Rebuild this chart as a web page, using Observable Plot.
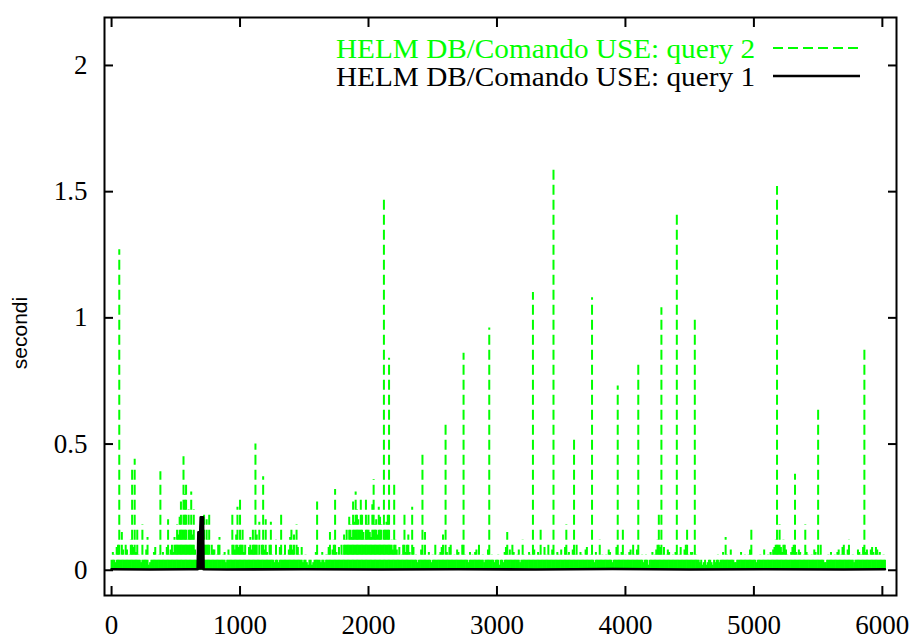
<!DOCTYPE html>
<html>
<head>
<meta charset="utf-8">
<script src="https://cdn.jsdelivr.net/npm/d3@7"></script>
<script src="https://cdn.jsdelivr.net/npm/@observablehq/plot@0.6"></script>
<style>
  html, body { margin: 0; padding: 0; background: white; }
  #chart { position: relative; width: 920px; height: 641px; }
</style>
</head>
<body>
<div id="chart"></div>
<script>
// ---- data ----
const seriesNames = ["HELM DB/Comando USE: query 2", "HELM DB/Comando USE: query 1"];
const xTicks = [0, 1000, 2000, 3000, 4000, 5000, 6000];
const yTicks = [0, 0.5, 1, 1.5, 2];

// query 2: one sample every 10 requests, starting at request 0
const q2Step = 10;
const q2 = [
  0.04,0.07, 0.06,0.03, 0.09,0.11, 1.27,0.05, 0.15,0.08, 0.05,0.10, 0.08,0.04, 0.06,0.12, 0.41,0.09, 0.44,0.07,
  0.16,0.06, 0.05,0.03, 0.18,0.05, 0.04,0.08, 0.13,0.02, 0.03,0.05, 0.05,0.07, 0.09,0.04, 0.04,0.06, 0.39,0.05,
  0.07,0.04, 0.05,0.09, 0.20,0.06, 0.08,0.11, 0.07,0.13, 0.10,0.18, 0.14,0.21, 0.27,0.16, 0.45,0.30, 0.35,0.12,
  0.24,0.17, 0.31,0.14, 0.24,0.08, 0.04,0.03, 0.02,0.09, 0.05,0.14, 0.23,0.10, 0.20,0.12, 0.22,0.06, 0.11,0.08,
  0.08,0.05, 0.06,0.10, 0.13,0.04, 0.04,0.06, 0.07,0.03, 0.05,0.08, 0.06,0.04, 0.23,0.11, 0.08,0.14, 0.25,0.09,
  0.29,0.12, 0.17,0.07, 0.10,0.05, 0.05,0.09, 0.13,0.08, 0.17,0.11, 0.50,0.14, 0.06,0.19, 0.04,0.10, 0.37,0.08,
  0.20,0.07, 0.05,0.11, 0.19,0.06, 0.04,0.03, 0.12,0.05, 0.03,0.09, 0.22,0.04, 0.06,0.10, 0.04,0.05, 0.08,0.13,
  0.17,0.08, 0.14,0.05, 0.18,0.09, 0.06,0.04, 0.09,0.03, 0.04,0.06, 0.03,0.02, 0.05,0.04, 0.02,0.03, 0.04,0.07,
  0.27,0.04, 0.05,0.03, 0.07,0.05, 0.03,0.06, 0.06,0.09, 0.15,0.05, 0.08,0.12, 0.32,0.07, 0.05,0.09, 0.04,0.11,
  0.06,0.14, 0.12,0.17, 0.10,0.21, 0.18,0.13, 0.27,0.19, 0.31,0.24, 0.20,0.16, 0.28,0.22, 0.15,0.12, 0.29,0.18,
  0.22,0.15, 0.13,0.26, 0.36,0.18, 0.20,0.14, 0.25,0.21, 0.18,0.11, 1.47,0.16, 0.19,0.23, 0.84,0.10, 0.12,0.08,
  0.34,0.12, 0.08,0.06, 0.09,0.05, 0.06,0.11, 0.23,0.07, 0.10,0.14, 0.07,0.05, 0.25,0.09, 0.04,0.06, 0.03,0.05,
  0.05,0.08, 0.47,0.06, 0.15,0.04, 0.05,0.07, 0.04,0.03, 0.06,0.05, 0.10,0.04, 0.04,0.06, 0.07,0.09, 0.14,0.05,
  0.59,0.07, 0.06,0.09, 0.11,0.04, 0.05,0.06, 0.04,0.08, 0.07,0.05, 0.05,0.10, 0.86,0.06, 0.04,0.05, 0.03,0.07,
  0.05,0.06, 0.04,0.07, 0.08,0.05, 0.10,0.04, 0.04,0.06, 0.03,0.05, 0.05,0.08, 0.96,0.04, 0.06,0.05, 0.03,0.04,
  0.04,0.06, 0.02,0.05, 0.05,0.03, 0.07,0.09, 0.15,0.06, 0.08,0.05, 0.11,0.07, 0.04,0.05, 0.06,0.08, 0.03,0.05,
  0.12,0.06, 0.05,0.04, 0.04,0.07, 0.06,0.05, 1.10,0.08, 0.05,0.04, 0.07,0.06, 0.16,0.05, 0.04,0.09, 0.06,0.05,
  0.11,0.06, 0.05,0.08, 1.60,0.05, 0.04,0.07, 0.06,0.04, 0.08,0.05, 0.05,0.09, 0.18,0.06, 0.07,0.04, 0.05,0.08,
  0.53,0.06, 0.10,0.05, 0.04,0.07, 0.06,0.04, 0.05,0.08, 0.09,0.05, 0.04,0.06, 1.08,0.05, 0.03,0.07, 0.05,0.04,
  0.12,0.05, 0.06,0.04, 0.04,0.06, 0.05,0.08, 0.07,0.04, 0.03,0.05, 0.04,0.09, 0.73,0.06, 0.05,0.07, 0.17,0.05,
  0.06,0.04, 0.04,0.07, 0.08,0.05, 0.10,0.06, 0.05,0.08, 0.82,0.05, 0.04,0.06, 0.03,0.05, 0.06,0.04, 0.02,0.05,
  0.05,0.07, 0.04,0.06, 0.08,0.12, 0.22,0.09, 1.04,0.06, 0.09,0.05, 0.06,0.08, 0.07,0.04, 0.05,0.06, 0.04,0.07,
  1.42,0.05, 0.06,0.09, 0.04,0.05, 0.08,0.11, 0.16,0.06, 0.05,0.07, 0.07,0.05, 1.00,0.06, 0.04,0.05, 0.03,0.04,
  0.02,0.03, 0.04,0.02, 0.03,0.04, 0.05,0.03, 0.02,0.04, 0.03,0.05, 0.06,0.03, 0.04,0.05, 0.07,0.04, 0.13,0.06,
  0.05,0.04, 0.08,0.05, 0.04,0.03, 0.03,0.05, 0.05,0.04, 0.07,0.05, 0.04,0.06, 0.05,0.04, 0.06,0.08, 0.16,0.05,
  0.04,0.05, 0.03,0.04, 0.05,0.06, 0.04,0.05, 0.08,0.04, 0.05,0.06, 0.04,0.07, 0.06,0.08, 0.09,0.12, 1.52,0.10,
  0.18,0.09, 0.07,0.12, 0.10,0.08, 0.06,0.05, 0.05,0.07, 0.09,0.11, 0.38,0.07, 0.06,0.08, 0.07,0.05, 0.05,0.06,
  0.18,0.07, 0.06,0.05, 0.04,0.06, 0.05,0.08, 0.07,0.05, 0.64,0.06, 0.11,0.05, 0.04,0.03, 0.03,0.05, 0.06,0.04,
  0.07,0.05, 0.05,0.06, 0.04,0.07, 0.08,0.05, 0.06,0.09, 0.10,0.06, 0.05,0.08, 0.12,0.05, 0.04,0.06, 0.03,0.05,
  0.05,0.08, 0.07,0.06, 0.06,0.09, 0.89,0.07, 0.08,0.06, 0.05,0.08, 0.09,0.07, 0.06,0.09, 0.08,0.06, 0.07,0.05,
  0.05,0.06, 0.04
];

// query 1: request number and time (seconds)
const q1X = [0, 300, 600, 670, 676, 690, 694, 712, 716, 900, 1500, 2100, 2700, 3300, 3900, 4500, 5100, 5700, 6020];
const q1Y = [0.004, 0.003, 0.004, 0.004, 0.15, 0.15, 0.21, 0.21, 0.004, 0.003, 0.004, 0.003, 0.004, 0.003, 0.005, 0.003, 0.004, 0.003, 0.004];

// ---- build tables ----
const d2 = q2.map((v, i) => ({x: i * q2Step, y: v}));
const d1 = q1X.map((x, i) => ({x, y: q1Y[i]}));

const GREEN = "#00ff00";
const SERIF = "'Liberation Serif', 'Times New Roman', Times, serif";
const DASH = "10,5";
const fmt = d => String(d);

const plot = Plot.plot({
  width: 920,
  height: 641,
  marginLeft: 104,
  marginRight: 24,
  marginTop: 17,
  marginBottom: 46,
  style: {fontFamily: SERIF, fontSize: "27px", color: "black", background: "white", overflow: "visible"},
  x: {domain: [-55, 6110], label: null},
  y: {domain: [-0.1, 2.19], label: null},
  marks: [
    Plot.ruleX(d2, {x: "x", y1: 0, y2: "y", stroke: GREEN, strokeWidth: 2, strokeDasharray: DASH}),
    Plot.areaY(d1, {x: "x", y: "y", fill: "black"}),
    Plot.line(d1, {x: "x", y: "y", stroke: "black", strokeWidth: 2.6}),
    Plot.frame({stroke: "black", strokeWidth: 2}),
    Plot.axisX(xTicks, {anchor: "bottom", tickSize: 0, tickPadding: 19, tickFormat: fmt, label: null, fontSize: 27}),
    Plot.axisX(xTicks, {anchor: "bottom", tickSize: -9, tickFormat: () => "", label: null, strokeWidth: 2}),
    Plot.axisX(xTicks, {anchor: "top", tickSize: -9, tickFormat: () => "", label: null, strokeWidth: 2}),
    Plot.axisY(yTicks, {anchor: "left", tickSize: 0, tickPadding: 17, tickFormat: fmt, label: null, fontSize: 27}),
    Plot.axisY(yTicks, {anchor: "left", tickSize: -9, tickFormat: () => "", label: null, strokeWidth: 2}),
    Plot.axisY(yTicks, {anchor: "right", tickSize: -9, tickFormat: () => "", label: null, strokeWidth: 2})
  ]
});

const svg = d3.select(plot);

// y-axis title
svg.append("text")
  .attr("transform", "translate(27,333) rotate(-90)")
  .attr("text-anchor", "middle")
  .attr("font-family", "'Liberation Sans', Arial, sans-serif")
  .attr("font-size", 21)
  .attr("fill", "black")
  .text("secondi");

// legend
const legend = [
  {name: seriesNames[0], color: GREEN, dash: DASH, width: 1.8, y: 49},
  {name: seriesNames[1], color: "black", dash: null, width: 2.5, y: 77}
];
legend.forEach(l => {
  svg.append("text")
    .attr("x", 755).attr("y", l.y)
    .attr("dy", "0.35em")
    .attr("text-anchor", "end")
    .attr("font-family", SERIF)
    .attr("font-size", 27)
    .attr("textLength", 419)
    .attr("lengthAdjust", "spacingAndGlyphs")
    .attr("fill", l.color)
    .text(l.name);
  const ln = svg.append("line")
    .attr("x1", 773).attr("x2", 860)
    .attr("y1", l.y - 1).attr("y2", l.y - 1)
    .attr("stroke", l.color)
    .attr("stroke-width", l.width);
  if (l.dash) ln.attr("stroke-dasharray", l.dash);
});

document.getElementById("chart").appendChild(plot);
</script>
</body>
</html>
